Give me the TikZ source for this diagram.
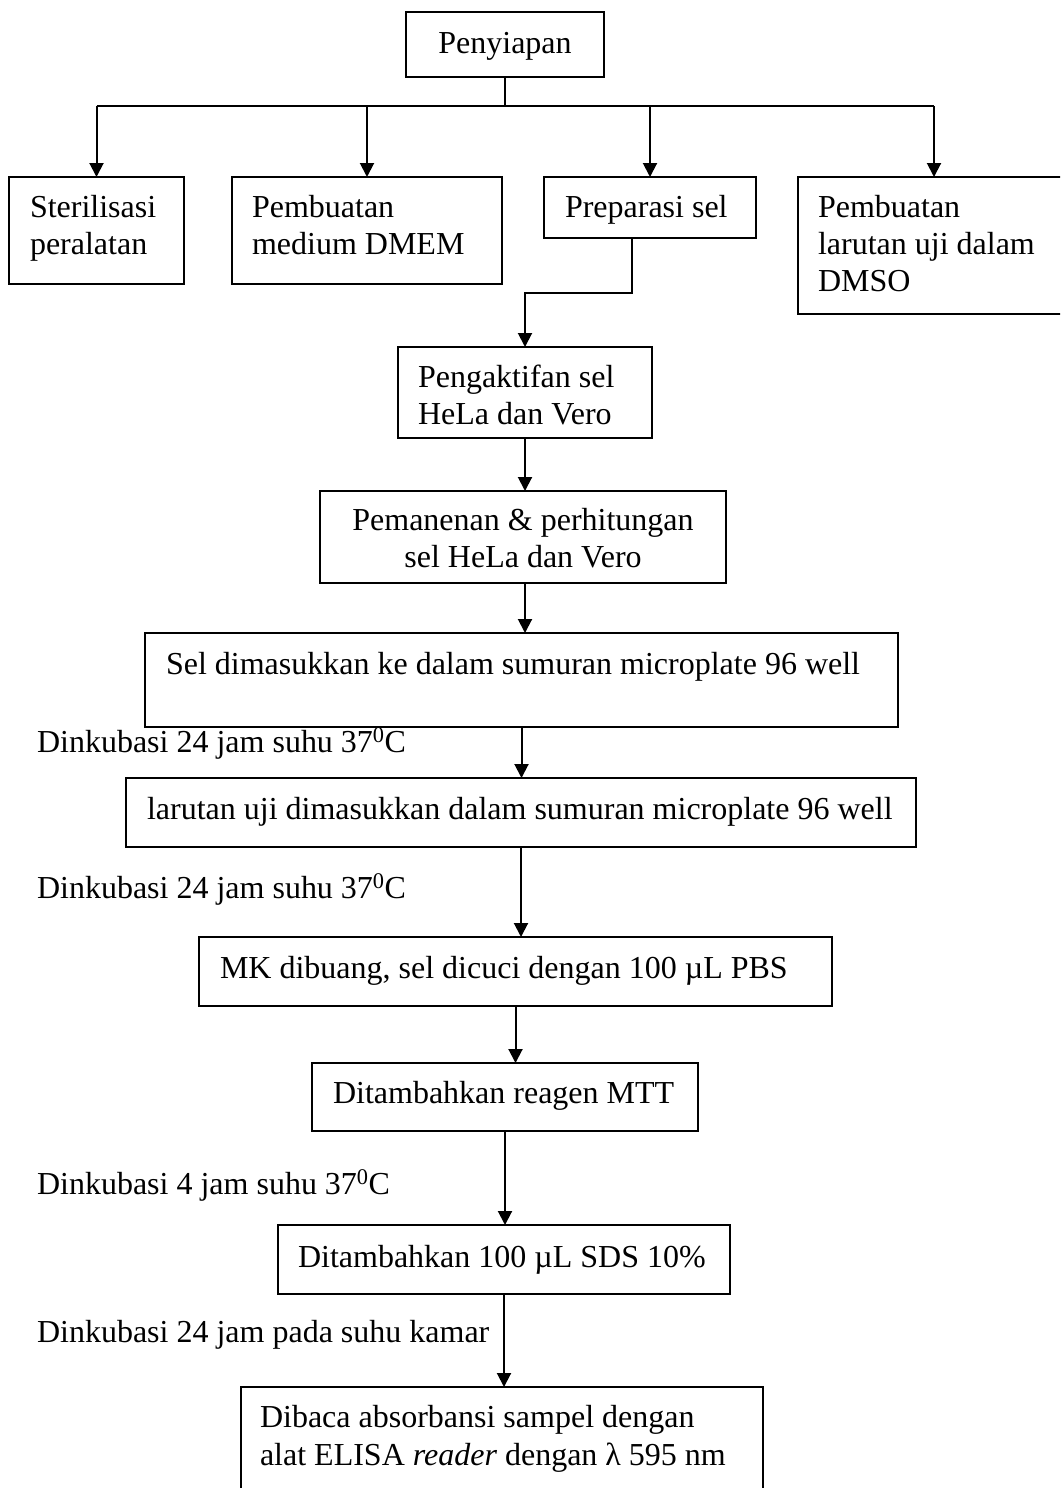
\documentclass[tikz,border=0pt]{standalone}
\usepackage{fontspec}
\setmainfont{Liberation Serif}
\usetikzlibrary{arrows.meta}
\begin{document}
\begin{tikzpicture}[x=1pt,y=-1pt,
  font=\fontsize{32}{37}\selectfont,
  box/.style={draw,line width=2.2pt,inner sep=0pt,outer sep=0pt},
  txt/.style={inner sep=0pt,outer sep=0pt,anchor=base west},
  ctxt/.style={inner sep=0pt,outer sep=0pt,anchor=base},
  conn/.style={line width=2pt},
  arr/.style={line width=2pt,-{Triangle[length=14pt,width=14pt]}}]
\useasboundingbox (0,0) rectangle (1060,1488);
\clip (0,0) rectangle (1060,1488);
% boxes
\node[box,minimum width=198pt,minimum height=65pt] (pen) at (505,44.5) {};
\node[box,minimum width=175pt,minimum height=107pt] (ster) at (96.5,230.5) {};
\node[box,minimum width=270pt,minimum height=107pt] (med) at (367,230.5) {};
\node[box,minimum width=212pt,minimum height=61pt] (prep) at (650,207.5) {};
\node[box,minimum width=272pt,minimum height=137pt] (dmso) at (934,245.5) {};
\node[box,minimum width=254pt,minimum height=91pt] (akt) at (525,392.5) {};
\node[box,minimum width=406pt,minimum height=92pt] (pem) at (523,537) {};
\node[box,minimum width=753pt,minimum height=94pt] (sel) at (521.5,680) {};
\node[box,minimum width=790pt,minimum height=69pt] (lar) at (521,812.5) {};
\node[box,minimum width=633pt,minimum height=69pt] (mk) at (515.5,971.5) {};
\node[box,minimum width=386pt,minimum height=68pt] (mtt) at (505,1097) {};
\node[box,minimum width=452pt,minimum height=69pt] (sds) at (504,1259.5) {};
\node[box,minimum width=522pt,minimum height=113pt] (dib) at (502,1443.5) {};
% texts
\node[ctxt] (tpen) at (505,54) {Penyiapan};
\node[txt] (tster1) at (30,217) {Sterilisasi};
\node[txt] (tster2) at (30,254) {peralatan};
\node[txt] (tmed1) at (252,217) {Pembuatan};
\node[txt] (tmed2) at (252,254) {medium DMEM};
\node[txt] (tprep) at (565,217) {Preparasi sel};
\node[txt] (tdmso1) at (818,217) {Pembuatan};
\node[txt] (tdmso2) at (818,254) {larutan uji dalam};
\node[txt] (tdmso3) at (818,291) {DMSO};
\node[txt] (takt1) at (418,387) {Pengaktifan sel};
\node[txt] (takt2) at (418,424) {HeLa dan Vero};
\node[ctxt] (tpem1) at (523,530) {Pemanenan \& perhitungan};
\node[ctxt] (tpem2) at (523,567) {sel HeLa dan Vero};
\node[txt] (tsel) at (166,674) {Sel dimasukkan ke dalam sumuran microplate 96 well};
\node[txt] (tlar) at (147,819) {larutan uji dimasukkan dalam sumuran microplate 96 well};
\node[txt] (tmk) at (220,978) {MK dibuang, sel dicuci dengan 100 µL PBS};
\node[txt] (tmtt) at (333,1103) {Ditambahkan reagen MTT};
\node[txt] (tsds) at (298,1267) {Ditambahkan 100 µL SDS 10\%};
\node[txt] (tdib1) at (260,1427) {Dibaca absorbansi sampel dengan};
\node[txt] (tdib2) at (260,1465) {alat ELISA \textit{reader} dengan λ 595 nm};
% side labels
\node[txt] (l1) at (37,752) {Dinkubasi 24 jam suhu 37\textsuperscript{0}C};
\node[txt] (l2) at (37,898) {Dinkubasi 24 jam suhu 37\textsuperscript{0}C};
\node[txt] (l3) at (37,1194) {Dinkubasi 4 jam suhu 37\textsuperscript{0}C};
\node[txt] (l4) at (37,1342) {Dinkubasi 24 jam pada suhu kamar};
% connectors
\coordinate (bus) at (505,106);
\draw[conn] (pen.south) -- (bus);
\draw[conn] (ster.north |- bus) -- (dmso.north |- bus);
\draw[arr] (ster.north |- bus) -- (ster.north);
\draw[arr] (med.north |- bus) -- (med.north);
\draw[arr] (prep.north |- bus) -- (prep.north);
\draw[arr] (dmso.north |- bus) -- (dmso.north);
\coordinate (pb) at (632,238);
\draw[arr] (pb) -- ++(0,55) -| (akt.north);
\draw[arr] (akt.south) -- (akt.south |- pem.north);
\draw[arr] (akt.south |- pem.south) -- (akt.south |- sel.north);
\draw[arr] (sel.south) -- (sel.south |- lar.north);
\draw[arr] (lar.south) -- (lar.south |- mk.north);
\draw[arr] (mk.south) -- (mk.south |- mtt.north);
\draw[arr] (mtt.south) -- (mtt.south |- sds.north);
\draw[arr] (sds.south) -- (sds.south |- dib.north);
\end{tikzpicture}
\end{document}
